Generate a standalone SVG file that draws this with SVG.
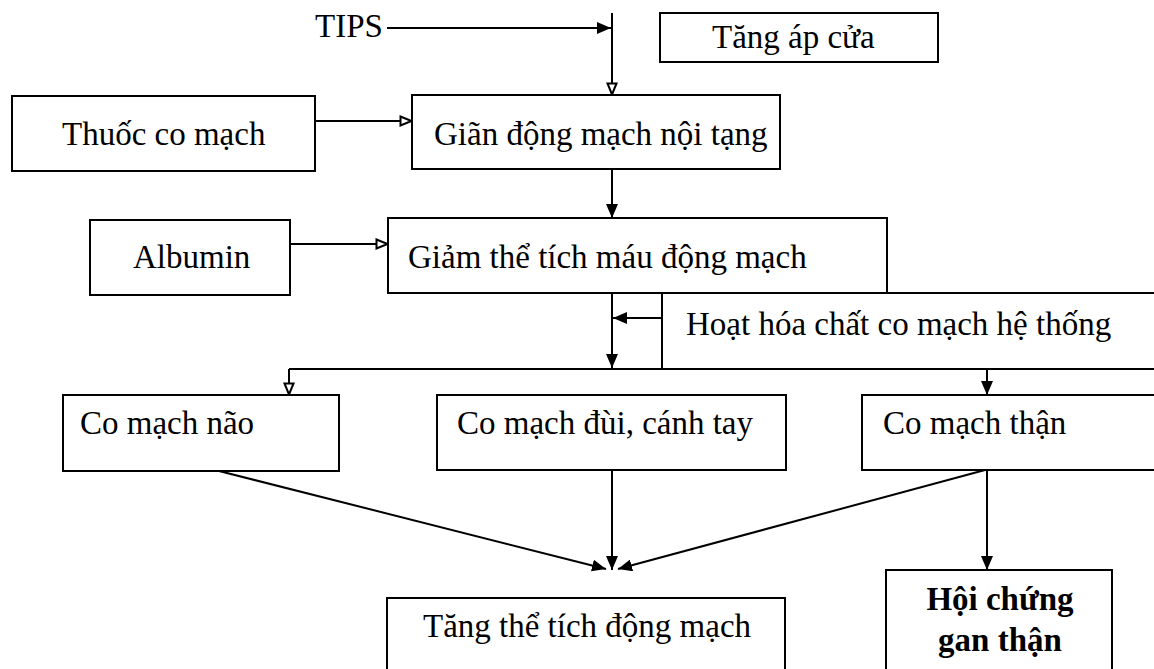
<svg xmlns="http://www.w3.org/2000/svg" width="1154" height="669" viewBox="0 0 1154 669">
  <style>
    .box { fill: none; stroke: #000; stroke-width: 2; }
    .ln { fill: none; stroke: #000; stroke-width: 2; }
    .t { font-family: "Liberation Serif", "Times New Roman", serif; font-size: 33px; fill: #000; }
    .b { font-weight: bold; }
  </style>
  <defs>
    <marker id="open" viewBox="0 0 14 12" refX="13" refY="6" markerWidth="14" markerHeight="12" orient="auto" markerUnits="userSpaceOnUse">
      <path d="M1.5,1.5 L12.5,6 L1.5,10.5 Z" fill="#fff" stroke="#000" stroke-width="2"/>
    </marker>
    <marker id="solid" viewBox="0 0 14 12" refX="14" refY="6" markerWidth="14" markerHeight="12" orient="auto" markerUnits="userSpaceOnUse">
      <path d="M0,0 L14,6 L0,12 Z" fill="#000"/>
    </marker>
  </defs>
  <rect width="1154" height="669" fill="#fff"/>

  <g id="tips">
    <text class="t" x="315" y="37">TIPS</text>
  </g>
  <g id="tang-ap-cua">
    <rect class="box" x="660" y="13" width="278" height="49"/>
    <text class="t" x="712" y="48">Tăng áp cửa</text>
  </g>
  <g id="thuoc-co-mach">
    <rect class="box" x="12" y="96" width="303" height="75"/>
    <text class="t" x="62" y="145">Thuốc co mạch</text>
  </g>
  <g id="gian-dong-mach">
    <rect class="box" x="412" y="95" width="368" height="74"/>
    <text class="t" x="434" y="145">Giãn động mạch nội tạng</text>
  </g>
  <g id="albumin">
    <rect class="box" x="90" y="220" width="200" height="75"/>
    <text class="t" x="133" y="268">Albumin</text>
  </g>
  <g id="giam-the-tich">
    <rect class="box" x="388" y="218" width="499" height="75"/>
    <text class="t" x="408" y="268">Giảm thể tích máu động mạch</text>
  </g>
  <g id="hoat-hoa">
    <path class="box" d="M887,293 H1154 M662,293 V368"/>
    <text class="t" x="686" y="335">Hoạt hóa chất co mạch hệ thống</text>
  </g>
  <g id="co-mach-nao">
    <rect class="box" x="63" y="395" width="276" height="76"/>
    <text class="t" x="80" y="434">Co mạch não</text>
  </g>
  <g id="co-mach-dui">
    <rect class="box" x="437" y="395" width="349" height="75"/>
    <text class="t" x="457" y="434">Co mạch đùi, cánh tay</text>
  </g>
  <g id="co-mach-than">
    <path class="box" d="M1154,395 H862 V470 H1154"/>
    <text class="t" x="883" y="434">Co mạch thận</text>
  </g>
  <g id="tang-the-tich">
    <path class="box" d="M387,669 V598 H785 V669"/>
    <text class="t" x="423" y="637">Tăng thể tích động mạch</text>
  </g>
  <g id="hoi-chung">
    <path class="box" d="M886,669 V570 H1112 V669"/>
    <text class="t b" x="1000" y="610" text-anchor="middle">Hội chứng</text>
    <text class="t b" x="1000" y="651" text-anchor="middle">gan thận</text>
  </g>

  <g id="connectors">
    <line class="ln" x1="387" y1="28" x2="611" y2="28" marker-end="url(#solid)"/>
    <line class="ln" x1="612" y1="13" x2="612" y2="95" marker-end="url(#open)"/>
    <line class="ln" x1="315" y1="121" x2="412" y2="121" marker-end="url(#open)"/>
    <line class="ln" x1="612" y1="169" x2="612" y2="218" marker-end="url(#solid)"/>
    <line class="ln" x1="290" y1="244" x2="388" y2="244" marker-end="url(#open)"/>
    <line class="ln" x1="612" y1="293" x2="612" y2="368" marker-end="url(#solid)"/>
    <line class="ln" x1="662" y1="318" x2="613" y2="318" marker-end="url(#solid)"/>
    <line class="ln" x1="289" y1="369" x2="1154" y2="369"/>
    <line class="ln" x1="289" y1="369" x2="289" y2="395" marker-end="url(#open)"/>
    <line class="ln" x1="987" y1="369" x2="987" y2="395" marker-end="url(#solid)"/>
    <line class="ln" x1="219" y1="471" x2="606" y2="569" marker-end="url(#solid)"/>
    <line class="ln" x1="612" y1="470" x2="612" y2="570" marker-end="url(#solid)"/>
    <line class="ln" x1="985" y1="470" x2="618" y2="569" marker-end="url(#solid)"/>
    <line class="ln" x1="987" y1="470" x2="987" y2="570" marker-end="url(#solid)"/>
  </g>
</svg>
